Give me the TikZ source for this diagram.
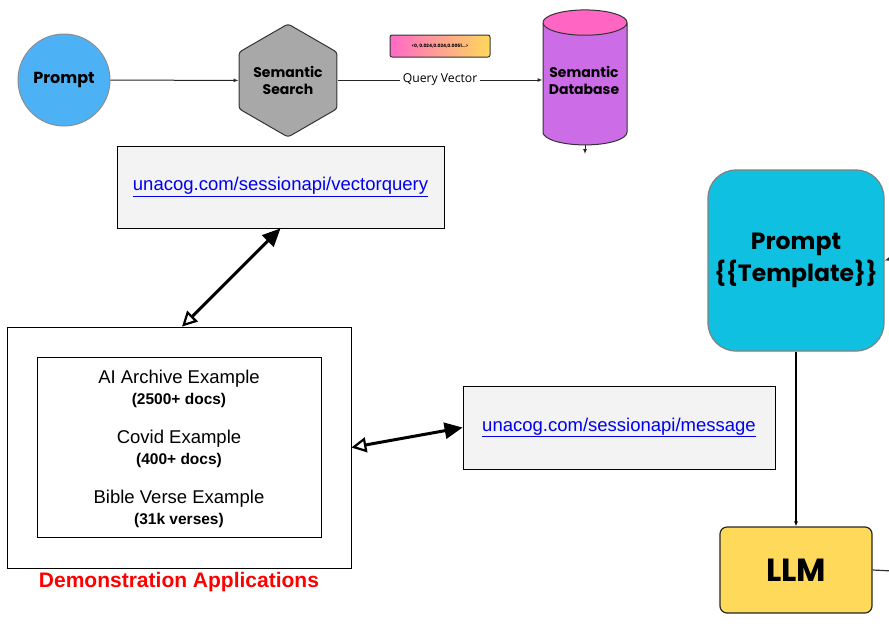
\documentclass[tikz,border=0pt]{standalone}
\usepackage{fontspec}
\setmainfont{Liberation Sans}
\newfontfamily\geofont{Poppins}
\newfontfamily\labelfont{Open Sans}
\usetikzlibrary{shapes.geometric,arrows.meta}

\definecolor{promptblue}{RGB}{77,178,245}
\definecolor{hexgray}{RGB}{168,168,168}
\definecolor{chippink}{RGB}{255,105,200}
\definecolor{chipyellow}{RGB}{255,217,90}
\definecolor{dbbody}{RGB}{204,108,231}
\definecolor{dbtop}{RGB}{255,102,196}
\definecolor{linkgray}{RGB}{243,243,243}
\definecolor{tplcyan}{RGB}{15,192,224}
\definecolor{llmyellow}{RGB}{255,218,90}
\definecolor{linkblue}{RGB}{0,0,238}
\definecolor{demored}{RGB}{255,0,0}

\tikzset{
  flowline/.style={draw=black!85, line width=1pt, -{Latex[length=5pt,width=4pt]}},
  linkbox/.style={draw, fill=linkgray, line width=0.8pt, inner sep=0pt},
  linktext/.style={text=linkblue, font=\fontsize{18.5}{21}\selectfont},
  bigarrow/.style={line width=3pt, {Triangle[open,length=15pt,width=15pt,line width=2.2pt]}-{Triangle[length=18pt,width=16pt]}},
  shapetext/.style={font=\geofont\bfseries\fontsize{14}{17}\selectfont, align=center},
}

\begin{document}
\begin{tikzpicture}[x=1pt, y=-1pt]
  \useasboundingbox (0,0) rectangle (889,625);

  % Query pipeline
  \node[circle, draw=black!45, line width=1pt, fill=promptblue, minimum size=92pt, inner sep=0pt, shapetext, font=\geofont\bfseries\fontsize{16}{19}\selectfont] (prompt) at (64,80) {Prompt};
  \node[regular polygon, regular polygon sides=6, shape border rotate=30, draw=black!80, line width=1pt, rounded corners=3pt, fill=hexgray, minimum size=111pt, inner sep=0pt, shapetext] (search) at (288,80.5) {Semantic\\Search};
  \node[cylinder, shape border rotate=90, aspect=0.36, draw=black!80, line width=1pt, cylinder uses custom fill, cylinder body fill=dbbody, cylinder end fill=dbtop, minimum width=84pt, minimum height=135pt, inner sep=0pt, shapetext] (db) at (585,84) {\phantom{Semantic}\\\phantom{Database}};
  \node[shapetext] (dblabel) at (584,80) {Semantic\\Database};
  \node[draw=black!80, line width=1pt, rounded corners=2pt, left color=chippink, right color=chipyellow, minimum width=100pt, minimum height=22pt, inner sep=0pt, font=\geofont\bfseries\fontsize{4.5}{5}\selectfont] (vector) at (440,46) {<0, 0.024,0.024,0.0051...>};
  \coordinate (dbout) at (585,154);

  \draw[flowline] (prompt) -- (search);
  \draw[flowline] (search.east |- prompt) -- node[fill=white, inner sep=3pt, font=\labelfont\fontsize{12.2}{14}\selectfont] (qv) {Query Vector} (db.west |- prompt);
  \draw[flowline] (db.south) -- (dbout);

  % Endpoints
  \node[linkbox, minimum width=327pt, minimum height=82pt, linktext] (vq) at (280.5,187) {\underline{unacog.com/sessionapi/vectorquery}};
  \node[linkbox, minimum width=312pt, minimum height=83pt, linktext] (msg) at (619,427.5) {\underline{unacog.com/sessionapi/message}};

  % Demonstration applications
  \node[draw, line width=0.8pt, minimum width=344pt, minimum height=241pt, inner sep=0pt] (demo) at (179,447.5) {};
  \node[draw, line width=0.8pt, minimum width=284pt, minimum height=180pt, inner sep=0pt] (inner) at (179,447) {};
  \node[align=center, font=\fontsize{18.5}{21}\selectfont] (ex1) at (179,389) {AI Archive Example\\{\bfseries\fontsize{15.5}{18}\selectfont (2500+ docs)}};
  \node[align=center, font=\fontsize{18.5}{21}\selectfont] (ex2) at (179,449) {Covid Example\\{\bfseries\fontsize{15.5}{18}\selectfont (400+ docs)}};
  \node[align=center, font=\fontsize{18.5}{21}\selectfont] (ex3) at (179,509) {Bible Verse Example\\{\bfseries\fontsize{15.5}{18}\selectfont (31k verses)}};
  \node[text=demored, font=\bfseries\fontsize{21}{24}\selectfont] (demolabel) at (179,582) {Demonstration Applications};

  \draw[bigarrow] ([xshift=3pt]demo.north) -- (vq.south);
  \draw[bigarrow] (demo.east) -- (msg.west);

  % Prompt template and LLM
  \node[draw=black!50, line width=1.2pt, rounded corners=28pt, fill=tplcyan, minimum width=176pt, minimum height=181pt, inner sep=0pt, font=\geofont\bfseries\fontsize{23.5}{32}\selectfont, align=center] (tpl) at (796,260.5) {Prompt\\\{\{Template\}\}};
  \node[draw=black!85, line width=1.2pt, rounded corners=7pt, fill=llmyellow, minimum width=152pt, minimum height=86pt, inner sep=0pt, font=\geofont\bfseries\fontsize{32}{34}\selectfont] (llm) at (796,570) {LLM};
  \coordinate (tplin) at (893,258);
  \coordinate (llmout) at (893,571);

  \draw[flowline] (tplin) -- (tpl.east);
  \draw[flowline, line width=1.3pt, black] (tpl) -- (llm);
  \draw[draw=black!80, line width=1.2pt] (llm.east) -- (llmout);
\end{tikzpicture}
\end{document}
